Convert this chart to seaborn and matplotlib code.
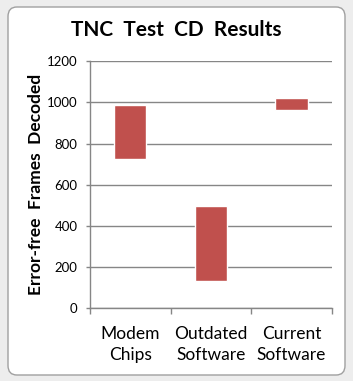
"""Floating range bars for the TNC test CD results."""

import matplotlib.pyplot as plt
import pandas as pd
import seaborn as sns
from matplotlib.patches import FancyBboxPatch
from matplotlib.ticker import FixedLocator

CATEGORIES = ["Modem\nChips", "Outdated\nSoftware", "Current\nSoftware"]
LOW_VALUES = [725, 130, 963]
HIGH_VALUES = [988, 497, 1022]
Y_TICKS = [0, 200, 400, 600, 800, 1000, 1200]

BAR_COLOR = "#C0504D"
GRID_COLOR = "#868686"


def main() -> None:
    sns.set_theme(style="white")
    plt.rcParams["font.family"] = ["Lato", "DejaVu Sans"]

    df = pd.DataFrame(
        {
            "category": CATEGORIES,
            "low": LOW_VALUES,
            "span": [h - l for h, l in zip(HIGH_VALUES, LOW_VALUES)],
        }
    )

    fig = plt.figure(figsize=(3.53, 3.81), dpi=100, facecolor="#EDEDED")
    frame = FancyBboxPatch(
        (8 / 353, 6 / 381), 337 / 353, 368 / 381,
        boxstyle="round,pad=0,rounding_size=0.025",
        transform=fig.transFigure, facecolor="white",
        edgecolor="#A0A0A0", linewidth=1.0, zorder=-5,
    )
    fig.patches.append(frame)

    ax = fig.add_axes([0.255, 0.191, 0.685, 0.648])
    ax.set_zorder(2)
    ax.set_facecolor("white")
    sns.barplot(data=df, x="category", y="span", color=BAR_COLOR,
                saturation=1, width=0.4, ax=ax, zorder=3)
    # lift each bar so it floats between its low and high value
    for patch, low in zip(ax.patches, df["low"]):
        patch.set_y(low)

    ax.set_ylim(0, 1200)
    ax.set_xlim(-0.5, 2.5)
    ax.set_yticks(Y_TICKS)
    ax.yaxis.grid(True, color=GRID_COLOR, linewidth=1.0, zorder=0)
    ax.set_axisbelow(True)

    for side in ("top", "right"):
        ax.spines[side].set_visible(False)
    for side in ("left", "bottom"):
        ax.spines[side].set_color(GRID_COLOR)
        ax.spines[side].set_linewidth(1.0)

    ax.tick_params(axis="y", which="major", left=True, length=3, width=1,
                   color=GRID_COLOR, pad=6, labelsize=9.5, labelcolor="black")
    ax.tick_params(axis="x", which="major", bottom=False, length=0, pad=12.5,
                   labelsize=12.5, labelcolor="black")
    ax.xaxis.set_minor_locator(FixedLocator([-0.5, 0.5, 1.5, 2.5]))
    ax.tick_params(axis="x", which="minor", bottom=True, length=4.5, width=1,
                   color=GRID_COLOR)
    for label in ax.get_xticklabels():
        label.set_linespacing(1.45)

    ax.set_xlabel("")
    ax.set_ylabel("Error-free  Frames  Decoded", fontsize=12.5,
                  fontweight="bold", color="black", labelpad=2)
    fig.text(0.5, 1 - 30 / 381, "TNC  Test  CD  Results", ha="center",
             va="center", fontsize=15, fontweight="bold", color="black")

    fig.savefig("out.png", dpi=100, facecolor=fig.get_facecolor())
    plt.close(fig)


if __name__ == "__main__":
    main()
